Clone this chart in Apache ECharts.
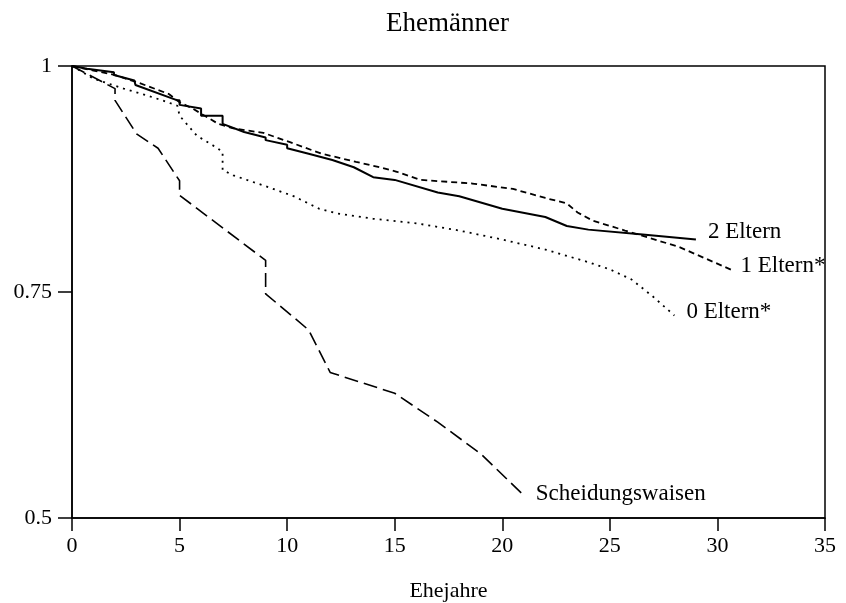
<!DOCTYPE html>
<html>
<head>
<meta charset="utf-8">
<script src="https://cdn.jsdelivr.net/npm/echarts@6/dist/echarts.min.js"></script>
<style>
  html, body { margin: 0; padding: 0; background: #fff; }
  #chart { width: 846px; height: 603px; }
</style>
</head>
<body>
<div id="chart"></div>
<script>
// Überlebenskurven: [Ehejahre, Anteil]
var zweiEltern = [[0, 1], [0.7, 0.997], [1.95, 0.993], [1.95, 0.990], [2.9, 0.984], [2.95, 0.979],
	[4.9, 0.962], [5, 0.962], [5, 0.957], [6, 0.953], [6, 0.945], [7, 0.945], [7, 0.936], [8, 0.927],
	[9, 0.921], [9, 0.918], [10, 0.913], [10, 0.909], [11, 0.903], [12.1, 0.896], [13.1, 0.888],
	[14, 0.877], [15, 0.874], [17, 0.860], [18, 0.856], [20, 0.842], [22, 0.833], [23, 0.823],
	[24, 0.819], [26.4, 0.814], [29, 0.808]];
var einElternteil = [[0, 1], [1, 0.995], [2, 0.990], [3.15, 0.981], [4.5, 0.969], [5, 0.960],
	[5.6, 0.953], [6.8, 0.936], [7.5, 0.931], [8.9, 0.926], [10.1, 0.916], [11.6, 0.903],
	[13.2, 0.894], [14.3, 0.888], [15.1, 0.883], [16.2, 0.874], [18.6, 0.870], [20.5, 0.864],
	[22, 0.854], [23, 0.848], [23.5, 0.838], [24.2, 0.829], [25.7, 0.818], [28.2, 0.800], [30.7, 0.774]];
var keinElternteil = [[0, 1], [1, 0.986], [2.4, 0.975], [3.4, 0.968], [4.2, 0.962], [4.9, 0.956],
	[5, 0.945], [5.8, 0.923], [6.7, 0.910], [7, 0.905], [7, 0.885], [7.5, 0.879], [9, 0.867],
	[10.3, 0.856], [11.5, 0.842], [12.3, 0.837], [14, 0.831], [16, 0.826], [18, 0.818], [20, 0.808],
	[22, 0.797], [24, 0.783], [25, 0.775], [26, 0.764], [27, 0.745], [28, 0.724]];
var scheidungswaisen = [[0, 1], [2, 0.975], [2, 0.962], [3, 0.925], [4, 0.909], [5, 0.873],
	[5, 0.857], [9, 0.785], [9, 0.748], [11, 0.708], [12, 0.661], [15, 0.638], [17, 0.606],
	[19, 0.571], [21, 0.525]];

var xTicks = [0, 5, 10, 15, 20, 25, 30, 35];
var yTicks = [0.5, 0.75, 1];

var font = 'Liberation Serif';
var chart = echarts.init(document.getElementById('chart'));

function kurve(name, data, dash, width, offset) {
	return {
		name: name,
		type: 'line',
		data: data,
		showSymbol: false,
		smooth: false,
		lineStyle: { color: '#000', width: width, type: dash },
		endLabel: {
			show: true,
			formatter: name,
			color: '#000',
			fontFamily: font,
			fontSize: 23,
			distance: 8,
			offset: offset
		}
	};
}

var option = {
	backgroundColor: '#fff',
	animation: false,
	title: {
		text: 'Ehemänner',
		left: 381,
		top: 5,
		textStyle: { fontFamily: font, fontSize: 27, fontWeight: 'normal', color: '#000' }
	},
	grid: {
		left: 72, right: 21, top: 66, bottom: 85,
		outerBoundsMode: 'none',
		containLabel: false,
		show: true, borderColor: '#000', borderWidth: 1.5
	},
	xAxis: {
		type: 'value',
		min: xTicks[0], max: xTicks[xTicks.length - 1], interval: 5,
		name: 'Ehejahre', nameLocation: 'middle', nameGap: 62,
		nameTextStyle: { fontFamily: font, fontSize: 22, color: '#000' },
		axisLine: { lineStyle: { color: '#000', width: 1.5 } },
		axisTick: { length: 13, lineStyle: { color: '#000', width: 1.5 } },
		axisLabel: { fontFamily: font, fontSize: 22, color: '#000', margin: 17 },
		splitLine: { show: false }
	},
	yAxis: {
		type: 'value',
		min: yTicks[0], max: yTicks[yTicks.length - 1], interval: 0.25,
		axisLine: { show: true, lineStyle: { color: '#000', width: 1.5 } },
		axisTick: { show: true, length: 14, lineStyle: { color: '#000', width: 1.5 } },
		axisLabel: { fontFamily: font, fontSize: 22, color: '#000', margin: 20 },
		splitLine: { show: false }
	},
	series: [
		kurve('2 Eltern', zweiEltern, 'solid', 2, [4, -8]),
		kurve('1 Eltern*', einElternteil, [6, 4], 1.8, [0, -4]),
		kurve('0 Eltern*', keinElternteil, [2, 5], 1.8, [4, -4]),
		kurve('Scheidungswaisen', scheidungswaisen, [14, 6], 1.6, [4, -1])
	]
};
chart.setOption(option);
</script>
</body>
</html>
